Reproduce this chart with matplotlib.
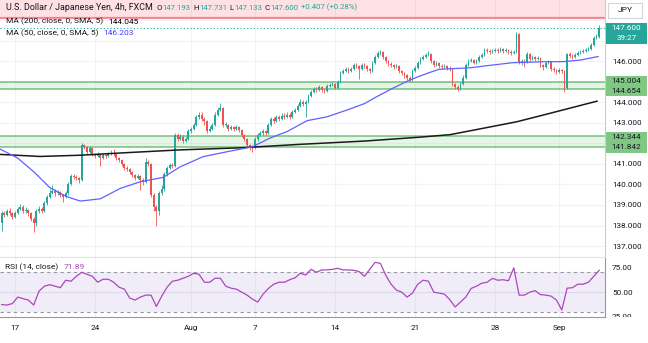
import numpy as np
import matplotlib
matplotlib.use("Agg")
import matplotlib.pyplot as plt
from matplotlib.patches import Rectangle
from matplotlib.transforms import Bbox, TransformedBbox

plt.rcParams['font.family'] = ['Roboto', 'DejaVu Sans']

# USD/JPY 4h candles (bar 0 = first visible bar)
first_open = 138.10
closes = [
    138.60, 138.50, 138.70, 138.60, 138.40, 138.60, 138.80, 138.90, 138.70, 138.75,
    138.60, 138.30, 138.10, 138.70, 138.80, 138.70, 139.10, 139.40, 139.60, 139.70,
    139.60, 139.65, 139.50, 139.40, 139.60, 140.00, 140.40, 140.35, 140.30, 140.20,
    141.90, 141.80, 141.60, 141.75, 141.50, 141.40, 141.50, 141.30, 141.45, 141.40,
    141.50, 141.55, 141.50, 141.30, 141.20, 141.00, 140.80, 140.75, 140.60, 140.45,
    140.30, 140.40, 140.20, 140.10, 141.10, 141.00, 139.50, 138.90, 138.70, 139.60,
    139.80, 140.50, 140.80, 140.95, 140.90, 142.40, 142.20, 142.30, 142.10, 142.20,
    142.60, 142.70, 142.90, 143.30, 143.40, 143.20, 143.10, 142.60, 142.70, 142.90,
    143.40, 143.60, 143.70, 142.90, 142.90, 142.70, 142.80, 142.70, 142.80, 142.65,
    142.40, 142.20, 141.90, 141.80, 141.75, 142.20, 142.40, 142.50, 142.60, 142.50,
    142.90, 143.20, 143.10, 143.30, 143.20, 143.35, 143.30, 143.40, 143.30, 143.50,
    143.60, 143.80, 144.00, 143.90, 144.00, 144.30, 144.50, 144.65, 144.60, 144.75,
    144.60, 144.55, 144.80, 144.85, 144.90, 144.70, 145.00, 145.40, 145.50, 145.60,
    145.50, 145.60, 145.80, 145.75, 145.60, 145.80, 145.75, 145.60, 145.50, 145.90,
    146.20, 146.40, 146.45, 146.20, 146.00, 145.85, 145.80, 145.70, 145.75, 145.50,
    145.40, 145.30, 145.20, 145.10, 145.50, 145.65, 145.90, 146.10, 146.20, 146.30,
    146.35, 146.00, 145.80, 145.90, 145.75, 145.70, 145.75, 145.65, 145.60, 144.90,
    144.75, 144.65, 144.90, 145.20, 145.80, 146.00, 146.05, 145.90, 146.00, 146.20,
    146.30, 146.55, 146.50, 146.45, 146.50, 146.55, 146.50, 146.60, 146.50, 146.55,
    146.45, 146.40, 146.45, 147.30, 145.95, 146.00, 145.95, 146.35, 146.10, 146.20,
    146.10, 146.15, 145.80, 145.70, 145.90, 145.95, 145.60, 145.55, 145.45, 145.55,
    145.50, 144.70, 146.35, 146.25, 146.20, 146.30, 146.40, 146.45, 146.50, 146.55,
    146.60, 146.80, 147.10, 147.193, 147.600]
highs = [
    138.70, 138.72, 138.80, 138.85, 138.65, 138.70, 138.90, 139.05, 139.00, 138.90,
    138.80, 138.65, 138.40, 138.80, 138.95, 138.90, 139.20, 139.50, 139.80, 139.95,
    139.80, 139.75, 139.70, 139.55, 139.70, 140.10, 140.50, 140.50, 140.45, 140.35,
    142.00, 141.95, 141.85, 141.85, 141.80, 141.55, 141.60, 141.55, 141.55, 141.50,
    141.60, 141.65, 141.70, 141.55, 141.35, 141.25, 141.05, 140.90, 140.80, 140.65,
    140.50, 140.50, 140.45, 140.30, 141.30, 141.20, 141.05, 139.60, 139.00, 139.70,
    139.95, 140.60, 140.90, 141.05, 141.05, 142.50, 142.50, 142.45, 142.40, 142.30,
    142.70, 142.80, 143.00, 143.40, 143.50, 143.50, 143.30, 143.15, 142.85, 143.00,
    143.50, 143.75, 143.95, 143.75, 143.05, 142.95, 142.90, 142.85, 142.90, 142.85,
    142.70, 142.45, 142.25, 141.95, 141.90, 142.30, 142.50, 142.60, 142.70, 142.65,
    143.00, 143.30, 143.30, 143.40, 143.40, 143.45, 143.45, 143.50, 143.45, 143.60,
    143.70, 143.90, 144.15, 144.10, 144.10, 144.40, 144.60, 144.75, 144.75, 144.85,
    144.80, 144.70, 144.90, 144.95, 145.00, 144.95, 145.10, 145.50, 145.60, 145.70,
    145.70, 145.70, 145.90, 145.90, 145.80, 145.90, 145.90, 145.80, 145.65, 146.00,
    146.30, 146.50, 146.55, 146.50, 146.25, 146.05, 145.95, 145.85, 145.85, 145.80,
    145.55, 145.45, 145.35, 145.25, 145.60, 145.75, 146.00, 146.20, 146.30, 146.40,
    146.50, 146.40, 146.05, 146.00, 145.95, 145.85, 145.85, 145.80, 145.75, 145.65,
    144.95, 144.85, 145.00, 145.30, 145.90, 146.10, 146.15, 146.10, 146.10, 146.30,
    146.40, 146.65, 146.65, 146.60, 146.60, 146.65, 146.65, 146.70, 146.65, 146.65,
    146.60, 146.55, 146.55, 147.40, 147.37, 146.10, 146.10, 146.45, 146.40, 146.30,
    146.25, 146.25, 146.20, 145.85, 146.00, 146.05, 146.00, 145.70, 145.60, 145.65,
    145.60, 145.55, 146.40, 146.45, 146.35, 146.40, 146.50, 146.55, 146.60, 146.65,
    146.70, 146.90, 147.20, 147.30, 147.731]
lows = [
    137.75, 138.42, 138.45, 138.50, 138.30, 138.35, 138.55, 138.75, 138.60, 138.60,
    138.45, 138.20, 137.70, 138.00, 138.60, 138.60, 138.65, 139.00, 139.35, 139.55,
    139.45, 139.50, 139.40, 139.15, 139.35, 139.50, 139.95, 140.25, 140.20, 140.05,
    140.15, 141.70, 141.50, 141.55, 141.40, 141.30, 141.35, 140.90, 141.25, 141.30,
    141.35, 141.45, 141.40, 141.20, 141.10, 140.90, 140.70, 140.65, 140.50, 140.35,
    140.20, 140.25, 139.75, 139.95, 140.05, 140.90, 139.40, 138.70, 138.00, 138.50,
    139.50, 139.70, 140.40, 140.75, 140.80, 140.85, 142.10, 142.15, 142.00, 142.05,
    142.15, 142.50, 142.65, 142.85, 143.20, 143.10, 142.90, 142.50, 142.55, 142.65,
    142.85, 143.35, 143.55, 142.80, 142.80, 142.60, 142.65, 142.60, 142.65, 142.55,
    142.30, 142.10, 141.80, 141.65, 141.57, 141.70, 142.10, 142.35, 142.40, 142.40,
    142.45, 142.85, 143.00, 143.05, 143.10, 143.15, 143.20, 143.25, 143.20, 143.25,
    143.45, 143.55, 143.75, 143.80, 143.30, 143.95, 144.25, 144.45, 144.50, 144.55,
    144.50, 144.45, 144.50, 144.75, 144.80, 144.65, 144.65, 144.95, 145.35, 145.45,
    145.40, 145.45, 145.55, 145.65, 145.15, 145.55, 145.65, 145.50, 145.40, 145.45,
    145.85, 146.15, 146.30, 146.10, 145.90, 145.75, 145.70, 145.60, 145.65, 145.40,
    145.30, 145.20, 145.10, 144.99, 145.05, 145.45, 145.60, 145.85, 146.05, 146.15,
    146.25, 145.90, 145.70, 145.75, 145.65, 145.60, 145.65, 145.55, 145.50, 144.80,
    144.65, 144.55, 144.60, 144.85, 145.15, 145.75, 145.95, 145.85, 145.85, 145.95,
    146.15, 146.25, 146.40, 146.35, 146.40, 146.45, 146.40, 146.45, 146.40, 146.45,
    146.35, 146.30, 146.35, 146.40, 145.85, 145.80, 145.70, 145.90, 146.00, 146.05,
    146.00, 146.05, 145.70, 145.55, 145.65, 145.85, 145.50, 145.45, 145.35, 145.40,
    145.40, 144.50, 144.65, 146.15, 146.10, 146.15, 146.25, 146.35, 146.40, 146.45,
    146.50, 146.55, 146.75, 147.05, 147.133]

# moving averages, read at a few points along each line (bar index, price)
ma200_bar = [-0.6, 14.4, 29.4, 46.2, 66.9, 89.4, 111.9, 136.2, 156.9, 168.1,
             180.5, 193.2, 205.6, 223.2]
ma200_val = [141.46, 141.36, 141.42, 141.54, 141.68, 141.78, 141.95, 142.11, 142.30, 142.42,
             142.73, 143.05, 143.46, 144.05]
ma50_bar = [-0.6, 6, 12, 18, 24.5, 29.5, 37, 44.5, 52, 60.5, 67, 75.5, 84.5, 94,
            100.5, 107, 114.5, 122, 129.5, 136, 140.5, 146.5, 153, 159.5, 164,
            175.5, 181, 191.5, 204.5, 210.5, 217, 223.6]
ma50_val = [141.72, 141.28, 140.62, 139.85, 139.40, 139.19, 139.30, 139.81, 140.13, 140.34,
            140.86, 141.35, 141.59, 141.83, 142.25, 142.57, 143.10, 143.29, 143.62, 143.93,
            144.26, 144.67, 145.08, 145.40, 145.60, 145.67, 145.76, 145.92, 145.97, 145.97,
            146.05, 146.22]

# RSI(14), one reading every second bar
rsi_vals = [
    37.5, 37, 38.5, 45, 43.5, 42, 37, 51, 56, 57.5,
    56, 54.5, 62, 61, 66, 70, 68, 66, 60, 63,
    63, 60, 55, 53, 44, 42, 45, 47, 47, 35.5,
    46, 55, 61, 62, 64, 66, 69, 68, 60, 60,
    64, 64, 56, 54, 53, 50, 47, 43, 40, 48,
    53.7, 58, 60, 60, 62.5, 64.5, 69, 67.3, 73, 70,
    72.4, 72.4, 73, 74, 72.4, 72.4, 72, 70.7, 66, 73,
    80, 79, 67, 58, 52, 50, 45, 49, 58, 62,
    61, 50, 49, 48, 42.5, 35, 40, 45, 53.7, 56,
    59, 60, 63.9, 62, 62.5, 61.5, 74.5, 47, 47, 50,
    51.5, 47.5, 47, 46, 42, 32, 54, 54.5, 58, 58,
    60, 66, 71.9]

support_zones = [(144.654, 145.004), (141.842, 142.344)]
resistance_low = 148.08
last_price = 147.600

date_bars = [5, 35, 71, 95, 125, 155, 185, 209]
date_labels = ['17', '24', 'Aug', '7', '14', '21', '28', 'Sep']
price_ticks = [137, 138, 139, 140, 141, 142, 143, 144, 145, 146, 147, 148]
price_labelled = [137, 138, 139, 140, 141, 143, 144, 146]

UP = '#26a69a'
DOWN = '#ef5350'
GRID = '#f0f3fa'
TXT = '#131722'
W, H = 648, 343


def fx(x):
    return x / W


def fy(y):
    return 1 - y / H


closes = np.array(closes)
opens = np.concatenate([[first_open], closes[:-1]])
highs = np.array(highs)
lows = np.array(lows)
bars = np.arange(len(closes))
up = closes >= opens
colors = np.where(up, UP, DOWN)

fig = plt.figure(figsize=(W / 100, H / 100), dpi=100)
ax = fig.add_axes([0, fy(257), fx(605), 257 / H])
ax2 = fig.add_axes([0, fy(317), fx(605), 59 / H])

# ---------------- price pane ----------------
ax.set_xlim(-0.63, 226.2)
ax.set_ylim(136.47, 148.97)
for t in price_ticks:
    ax.axhline(t, color=GRID, lw=0.8, zorder=0)
for b in date_bars:
    ax.axvline(b, color=GRID, lw=0.8, zorder=0)

# zones
ax.axhspan(resistance_low, 150, color='#f23645', alpha=0.15, lw=0, zorder=1)
ax.axhline(resistance_low, color='#f23645', alpha=0.55, lw=1.6, zorder=1)
for lo, hi in support_zones:
    ax.axhspan(lo, hi, color='#4caf50', alpha=0.13, lw=0, zorder=1)
    ax.axhline(lo, color='#4caf50', alpha=0.75, lw=1.1, zorder=1)
    ax.axhline(hi, color='#4caf50', alpha=0.75, lw=1.1, zorder=1)

# candles
ax.vlines(bars, lows, highs, colors=colors, lw=0.6, zorder=3)
body = np.maximum(np.abs(closes - opens), 0.025)
ax.bar(bars, body, bottom=np.minimum(opens, closes), width=0.68,
       color=colors, lw=0, zorder=3)

ax.plot(ma200_bar, ma200_val, color='#1a1a1a', lw=1.1, zorder=4)
ax.plot(ma50_bar, ma50_val, color='#6060ff', lw=0.9, zorder=4)
ax.axhline(last_price, color=UP, lw=0.8, ls=(0, (1, 2)), zorder=2)

ax.yaxis.tick_right()
ax.set_yticks(price_ticks)
ax.set_yticklabels([f'{t:.3f}' if t in price_labelled else '' for t in price_ticks])
ax.tick_params(axis='y', length=0, pad=5, labelsize=5.9, labelcolor=TXT)
ax.set_xticks([])
for s in ['top', 'left']:
    ax.spines[s].set_visible(False)
ax.spines['right'].set_color('#c9ccd3')
ax.spines['bottom'].set_color('#e0e3eb')
ax.spines['right'].set_linewidth(0.8)
ax.spines['bottom'].set_linewidth(0.8)

# ---------------- RSI pane ----------------
rsi_bars = np.arange(0, 2 * len(rsi_vals), 2)
ax2.set_xlim(-0.63, 226.2)
ax2.set_ylim(24.96, 84.4)
for b in date_bars:
    ax2.axvline(b, color=GRID, lw=0.8, zorder=0)
ax2.axhline(50, color='#e6e8ee', lw=0.8, zorder=0)
ax2.axhspan(30, 70, color='#7e57c2', alpha=0.1, lw=0, zorder=1)
ax2.axhline(70, color='#9598a1', lw=0.8, ls=(0, (3, 3)), zorder=2)
ax2.axhline(30, color='#9598a1', lw=0.8, ls=(0, (3, 3)), zorder=2)
ax2.plot(rsi_bars, rsi_vals, color='#ab47bc', lw=0.9, zorder=3)

ax2.yaxis.tick_right()
ax2.set_yticks([50, 75])
ax2.set_yticklabels(['50.00', '75.00'])
ax2.tick_params(axis='y', length=0, pad=5, labelsize=5.9, labelcolor=TXT)
ax2.set_xticks(date_bars)
ax2.set_xticklabels(date_labels)
ax2.tick_params(axis='x', length=0, pad=6, labelsize=5.9, labelcolor=TXT)
for s in ['top', 'left']:
    ax2.spines[s].set_visible(False)
ax2.spines['right'].set_color('#9598a1')
ax2.spines['bottom'].set_color('#9598a1')

# clipped 25.00 label at the pane bottom
t25 = fig.text(fx(612), fy(317), '25.00', fontsize=5.9, color=TXT, va='center', ha='left')
t25.set_clip_box(TransformedBbox(Bbox.from_extents(fx(606), fy(317), 1, fy(300)),
                                 fig.transFigure))
t25.set_clip_on(True)

# ---------------- header texts ----------------
renderer = fig.canvas.get_renderer()


def text_run(x, y, parts):
    # lay out coloured pieces one after another, x/y in pixels
    for s, color, size, gap in parts:
        t = fig.text(fx(x), fy(y), s, fontsize=size, color=color, va='center')
        x += t.get_window_extent(renderer).width + gap


text_run(6, 7.5, [('U.S. Dollar / Japanese Yen, 4h, FXCM', TXT, 6.4, 4),
                  ('O', TXT, 5.6, 0.5), ('147.193', UP, 5.6, 2.5),
                  ('H', TXT, 5.6, 0.5), ('147.731', UP, 5.6, 2.5),
                  ('L', TXT, 5.6, 0.5), ('147.133', UP, 5.6, 2.5),
                  ('C', TXT, 5.6, 0.5), ('147.600', UP, 5.6, 2.5),
                  ('+0.407 (+0.28%)', UP, 5.6, 0)])
text_run(6, 21.5, [('MA (200, close, 0, SMA, 5)', TXT, 6.0, 5), ('144.045', '#000000', 6.0, 0)])
text_run(6, 33, [('MA (50, close, 0, SMA, 5)', TXT, 6.0, 5), ('146.203', '#3d3dff', 6.0, 0)])
text_run(5, 267, [('RSI (14, close)', TXT, 6.0, 5), ('71.89', '#ab47bc', 6.0, 0)])

# ---------------- price scale labels ----------------
fig.add_artist(Rectangle((fx(608), fy(17.5)), fx(34), 14 / H, transform=fig.transFigure,
                         fc='white', ec='#d1d4dc', lw=0.8))
fig.text(fx(625), fy(10.5), 'JPY', fontsize=6.0, color=TXT, ha='center', va='center')

fig.add_artist(Rectangle((fx(606), fy(43.5)), fx(41), 21 / H, transform=fig.transFigure,
                         fc=UP, ec='none'))
fig.text(fx(626.5), fy(28.3), '147.600', fontsize=5.9, color='white', ha='center', va='center')
fig.text(fx(626.5), fy(37.5), '39:27', fontsize=5.9, color='white', ha='center', va='center')

for y_top, y_bot, pair in [(76, 96.5, ('145.004', '144.654')),
                           (131.5, 152.5, ('142.344', '141.842'))]:
    fig.add_artist(Rectangle((fx(606), fy(y_bot)), fx(41), (y_bot - y_top) / H,
                             transform=fig.transFigure, fc='#81c784', ec='none'))
    mid = (y_top + y_bot) / 2
    fig.text(fx(626.5), fy(mid - 5), pair[0], fontsize=5.9, color=TXT, ha='center', va='center')
    fig.text(fx(626.5), fy(mid + 5), pair[1], fontsize=5.9, color=TXT, ha='center', va='center')

fig.savefig('out.png', dpi=100)
